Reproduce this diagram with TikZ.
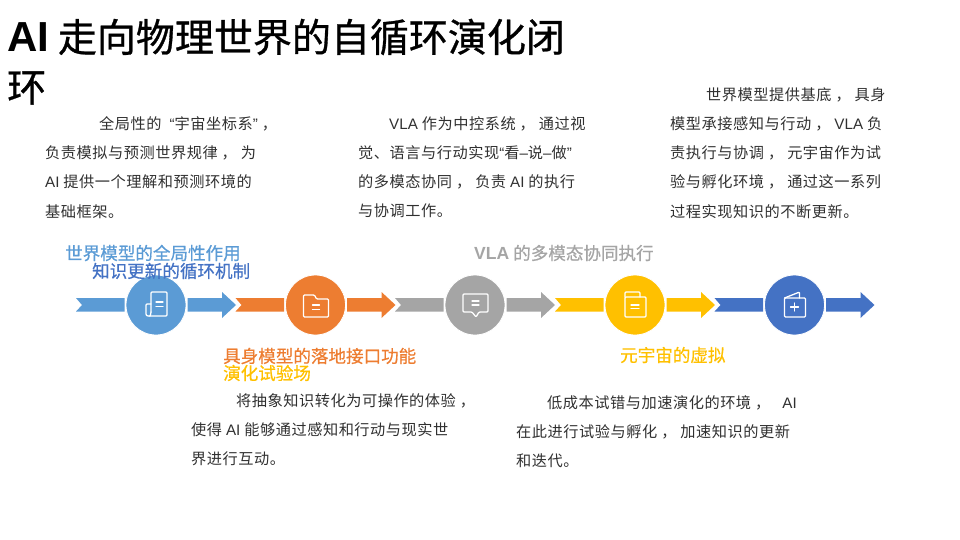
\documentclass[tikz,border=0pt]{standalone}
\usepackage{fontspec}
\usepackage{xcolor}
\setmainfont{Noto Sans CJK SC}
\newfontfamily\lat{Liberation Sans}
\newfontfamily\bodyfont[LetterSpace=3.5]{Noto Sans CJK SC}
\newfontfamily\headfont[FakeBold=0.6]{Noto Sans CJK SC}
\newfontfamily\titlefont[FakeBold=0.8]{Noto Sans CJK SC}
\usetikzlibrary{positioning}
\definecolor{cblue}{HTML}{5B9BD5}
\definecolor{corange}{HTML}{ED7D31}
\definecolor{cgray}{HTML}{A5A5A5}
\definecolor{cyellow}{HTML}{FFC000}
\definecolor{cdblue}{HTML}{4472C4}
\definecolor{ctext}{HTML}{303030}
\newcommand{\cma}{\hspace{4pt}，\hspace{4pt}}
\newcommand{\ltn}[1]{{\lat #1}}
\tikzset{
  stepnode/.style={circle, draw=white, line width=0.8pt, minimum size=60pt, inner sep=0pt},
  bodytext/.style={anchor=north west, inner sep=0pt, align=left, text=ctext, font=\bodyfont\fontsize{15.2}{29.3}\selectfont},
  headlabel/.style={anchor=west, inner sep=0pt, font=\headfont\fontsize{17.55}{20}\selectfont},
  titletext/.style={anchor=west, inner sep=0pt, text=black, font=\titlefont\fontsize{39}{40}\selectfont},
  iconline/.style={draw=white, line width=1.3pt, line join=round, line cap=round, rounded corners=1pt}
}
\begin{document}
\begin{tikzpicture}[x=1pt, y=-1pt]
\useasboundingbox (0,0) rectangle (960,540);
% title
\node[titletext] (title1) at (7,37) {{\lat\bfseries\fontsize{42}{40}\selectfont AI} 走向物理世界的自循环演化闭};
\node[titletext] (title2) at (7,88) {环};
% step circles
\node[stepnode, fill=cblue] (s1) at (156,305) {};
\node[stepnode, fill=corange] (s2) at (315.5,305) {};
\node[stepnode, fill=cgray] (s3) at (475,305) {};
\node[stepnode, fill=cyellow] (s4) at (635,305) {};
\node[stepnode, fill=cdblue] (s5) at (794.5,305) {};
% tail and head of each step
\foreach \s/\col in {s1/cblue,s2/corange,s3/cgray,s4/cyellow,s5/cdblue} {
  \begin{scope}[shift={(\s)}]
    \fill[\col] (-80,-7) -- (-31.5,-7) -- (-31.5,6.5) -- (-80,6.5) -- (-74,0) -- cycle;
    \fill[\col] (31.5,-7) -- (66,-7) -- (66,-13) -- (80,0) -- (66,13) -- (66,6.5) -- (31.5,6.5) -- cycle;
  \end{scope}
}
% icons
\begin{scope}[shift={(s1)}]
  \draw[iconline] (-5,7) -- (-5,-13) -- (11,-13) -- (11,11) -- (-7,11);
  \draw[iconline] (-5,-1) -- (-10,-1) -- (-10,8) .. controls (-10,10) and (-9,11) .. (-7,11) .. controls (-6,11) and (-5,9) .. (-5,7);
  \draw[iconline] (0,-3) -- (7,-3) (0,1.5) -- (7,1.5);
\end{scope}
\begin{scope}[shift={(s2)}]
  \draw[iconline] (-12,-10) -- (-1,-10) -- (1,-6) -- (13,-6) -- (13,12) -- (-12,12) -- cycle;
  \draw[iconline] (-3,0) -- (4,0) (-3,4.5) -- (4,4.5);
\end{scope}
\begin{scope}[shift={(s3)}]
  \draw[iconline] (-12,-11) -- (13,-11) -- (13,7) -- (4,7) -- (1,12) -- (-3,7) -- (-12,7) -- cycle;
  \draw[iconline] (-3,-4) -- (4,-4) (-3,0) -- (4,0);
\end{scope}
\begin{scope}[shift={(s4)}]
  \draw[iconline] (-10,-8) -- (11,-8) -- (11,12) -- (-10,12) -- cycle;
  \draw[iconline] (-10,-8) -- (-10,-13) -- (5,-13) -- (5,-8);
  \draw[iconline] (-4,0) -- (4,0) (-4,3.5) -- (4,3.5);
\end{scope}
\begin{scope}[shift={(s5)}]
  \draw[iconline] (-10,-7) -- (11,-7) -- (11,12) -- (-10,12) -- cycle;
  \draw[iconline] (-10,-7) -- (5,-13) -- (5,-7);
  \draw[iconline] (-4,2) -- (4,2) (0,-2) -- (0,6);
\end{scope}
% labels
\node[headlabel, text=cblue] (lab1) at (65,253) {世界模型的全局性作用};
\node[headlabel, text=cdblue] (lab2) at (92,271) {知识更新的循环机制};
\node[headlabel, text=corange] (lab3) at (223,356) {具身模型的落地接口功能};
\node[headlabel, text=cyellow] (lab4) at (223,373) {演化试验场};
\node[headlabel, text=cgray] (lab5) at (474,253) {{\lat\bfseries VLA} 的多模态协同执行};
\node[headlabel, text=cyellow] (lab6) at (620,355) {元宇宙的虚拟};
% paragraphs
\node[bodytext] (p1) at (45,116) {\hspace*{54pt}全局性的\hspace{8pt}{\lat “}宇宙坐标系{\lat ”}\cma\\负责模拟与预测世界规律\cma 为\\\ltn{AI} 提供一个理解和预测环境的\\基础框架。};
\node[bodytext] (p2) at (358,116) {\hspace*{31pt}\ltn{VLA} 作为中控系统\cma 通过视\\觉、语言与行动实现{\lat “}看{\lat –}说{\lat –}做{\lat ”}\\的多模态协同\cma 负责 \ltn{AI} 的执行\\与协调工作。};
\node[bodytext] (p3) at (670,87) {\hspace*{36pt}世界模型提供基底\cma 具身\\模型承接感知与行动\cma \ltn{VLA} 负\\责执行与协调\cma 元宇宙作为试\\验与孵化环境\cma 通过这一系列\\过程实现知识的不断更新。};
\node[bodytext] (p4) at (191,393) {\hspace*{45pt}将抽象知识转化为可操作的体验\cma\\使得 \ltn{AI} 能够通过感知和行动与现实世\\界进行互动。};
\node[bodytext] (p5) at (516,395) {\hspace*{31pt}低成本试错与加速演化的环境\cma\hspace{8pt}\ltn{AI}\\在此进行试验与孵化\cma 加速知识的更新\\和迭代。};
\end{tikzpicture}
\end{document}
